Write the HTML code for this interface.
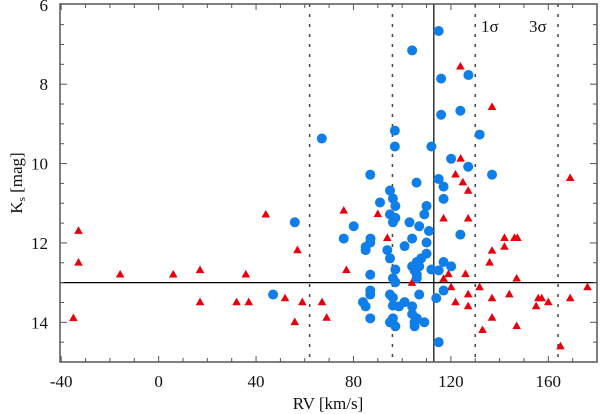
<!DOCTYPE html>
<html><head><meta charset="utf-8">
<style>
html,body{margin:0;padding:0;background:#fff;}
svg{display:block;font-family:"Liberation Serif",serif;}
</style></head>
<body>
<svg id="chart" width="600" height="414" viewBox="0 0 600 414" xmlns="http://www.w3.org/2000/svg" style="position:absolute;left:0;top:0">
<g id="marks"></g>
<g id="axes"></g>
<text x="328" y="409" text-anchor="middle" font-size="17" fill="#111" font-family="Liberation Serif, serif">RV [km/s]</text>
<text transform="translate(22,183) rotate(-90)" text-anchor="middle" font-size="17" fill="#111" font-family="Liberation Serif, serif">K<tspan font-size="11" dy="3">s</tspan><tspan dy="-3"> [mag]</tspan></text>
<text x="481" y="32" font-size="17" fill="#111" font-family="Liberation Serif, serif">1σ</text>
<text x="529" y="32" font-size="17" fill="#111" font-family="Liberation Serif, serif">3σ</text>
</svg>
<script>
const xTicks = [-40, 0, 40, 80, 120, 160];
const yTicks = [6, 8, 10, 12, 14];
const meanRV = 113;
const sigmaLines = [62, 96, 130, 164];
const magCut = 13;
const circleRV = [55.9,47,115,104.1,116,127.2,116,123.9,67,97,131.8,97,112,120.1,127.1,86.9,136.9,105.9,115,117,95,96.2,117,90.9,97.2,110,95,109.1,97.2,96.2,103,107,80.1,111,123.9,76,87,104.1,86.9,110,85,101,85,93.9,110,95,107.8,106,117,104.1,107,120.1,97.2,112,115,105.1,86.9,106,96.2,106,97.2,86.9,117,86.9,95,107,114,96.2,83.9,101,96.2,85,98.7,104.1,104.1,86.9,96.2,106,95,109.1,105.1,97.2,105.1,115];
const circleK = [11.48,13.3,6.66,7.15,7.86,7.77,8.77,8.67,9.37,9.17,9.27,9.57,9.57,9.88,10.08,10.28,10.28,10.48,10.39,10.58,10.68,10.88,10.89,10.98,11.07,11.07,11.28,11.28,11.37,11.48,11.48,11.58,11.58,11.7,11.79,11.89,11.89,11.89,11.99,11.99,12.1,12.08,12.18,12.18,12.27,12.39,12.39,12.48,12.48,12.59,12.59,12.59,12.67,12.67,12.69,12.69,12.8,12.8,12.89,12.89,12.99,13.2,13.2,13.3,13.3,13.3,13.39,13.38,13.49,13.49,13.58,13.6,13.6,13.6,13.79,13.9,13.9,13.9,14.0,14.0,14.0,14.1,14.1,14.5];
const triRV = [-32.9,-32.9,-15.8,6,17,35.8,44,57,51.9,17,32,37,59,-35,55.9,123.9,136.9,124,121.9,124.9,127.1,169,76,90,117,127.1,93.9,142,146.1,147.3,142,136.9,135.9,77.1,119,126,117,147,104,120.1,131.8,176.1,127.1,144,136.9,155.9,157.3,169,67.1,121.9,160,127.1,155,69,136.9,147,133,165];
const triK = [11.68,12.48,12.78,12.78,12.67,12.78,11.27,12.17,13.38,13.48,13.48,13.48,13.48,13.88,13.98,7.54,8.56,9.86,10.26,10.46,10.67,10.35,11.17,11.26,11.37,11.37,11.86,11.86,11.86,11.86,12.08,12.18,12.48,12.67,12.77,12.77,12.89,12.88,12.99,13.1,13.1,13.1,13.28,13.28,13.38,13.38,13.38,13.38,13.48,13.48,13.48,13.58,13.58,13.87,13.87,14.08,14.18,14.59];

const L=60,R=597,T=4,B=362;
const xMin=-40.5,xMax=180,yMin=5.98,yMax=15;
function sx(v){return L+(v-xMin)/(xMax-xMin)*(R-L);}
function sy(v){return T+(v-yMin)/(yMax-yMin)*(B-T);}
const NS="http://www.w3.org/2000/svg";
function mk(tag,attrs,parent){const e=document.createElementNS(NS,tag);for(const k in attrs)e.setAttribute(k,attrs[k]);parent.appendChild(e);return e;}
const marks=document.getElementById('marks'),axes=document.getElementById('axes');

sigmaLines.forEach(v=>{const l=mk('line',{x1:sx(v),x2:sx(v),y1:T,y2:B,stroke:'#444','stroke-width':1.5,'stroke-dasharray':'3,7'},marks);

});
const ml=mk('line',{x1:sx(meanRV),x2:sx(meanRV),y1:T,y2:B,stroke:'#000','stroke-width':1.2},marks);


const hl=mk('line',{x1:L,x2:R,y1:sy(magCut),y2:sy(magCut),stroke:'#000','stroke-width':1.2},marks);



triRV.forEach((v,i)=>{const x=sx(v),y=sy(triK[i]);
const p=mk('polygon',{points:`${x-4.3},${y+3.6} ${x+4.3},${y+3.6} ${x},${y-4}`,fill:'#e8000b'},marks);

});
circleRV.forEach((v,i)=>{const c=mk('circle',{cx:sx(v),cy:sy(circleK[i]),r:5,fill:'#0f7ee8'},marks);

});

const fr=mk('rect',{x:L,y:T,width:R-L,height:B-T,fill:'none',stroke:'#555','stroke-width':1.5},axes);


for(let v=-40;v<=180;v+=10){const x=sx(v),len=(v%40===0)?6:4;
mk('line',{x1:x,x2:x,y1:B,y2:B-len,stroke:'#555','stroke-width':1},axes);
mk('line',{x1:x,x2:x,y1:T,y2:T+len,stroke:'#555','stroke-width':1},axes);}
for(let v=6.5;v<=15;v+=0.5){const y=sy(v),len=(v%2===0)?7:4;
mk('line',{x1:L,x2:L+len,y1:y,y2:y,stroke:'#555','stroke-width':1},axes);
mk('line',{x1:R,x2:R-len,y1:y,y2:y,stroke:'#555','stroke-width':1},axes);}
xTicks.forEach(v=>{const t=mk('text',{x:sx(v),y:387,'text-anchor':'middle','font-size':17,fill:'#111','font-family':'Liberation Serif, serif'},axes);t.textContent=String(v);

});
yTicks.forEach(v=>{const t=mk('text',{x:48,y:sy(v)+6,'text-anchor':'end','font-size':17,fill:'#111','font-family':'Liberation Serif, serif'},axes);t.textContent=String(v);

});
</script>
</body></html>
